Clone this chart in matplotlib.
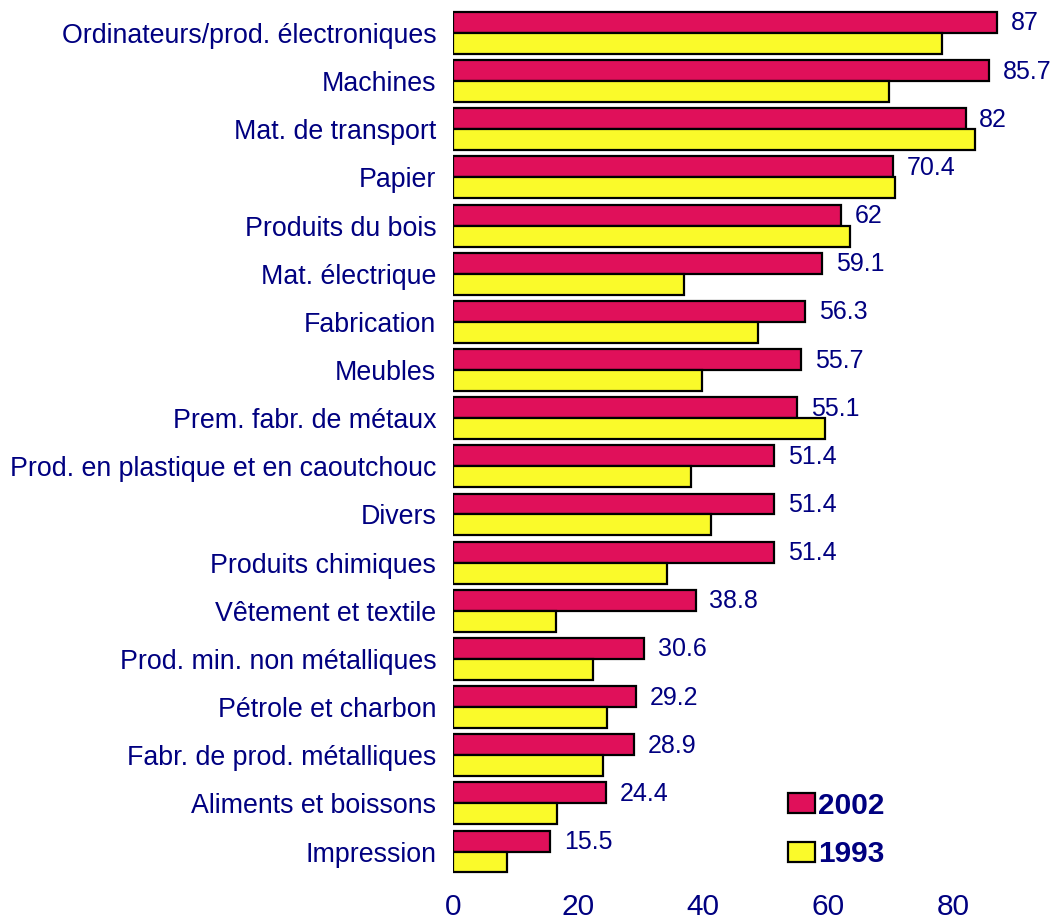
import matplotlib.pyplot as plt
import numpy as np

plt.rcParams["font.family"] = ["Liberation Sans", "DejaVu Sans"]

categories = [
    "Ordinateurs/prod. électroniques",
    "Machines",
    "Mat. de transport",
    "Papier",
    "Produits du bois",
    "Mat. électrique",
    "Fabrication",
    "Meubles",
    "Prem. fabr. de métaux",
    "Prod. en plastique et en caoutchouc",
    "Divers",
    "Produits chimiques",
    "Vêtement et textile",
    "Prod. min. non métalliques",
    "Pétrole et charbon",
    "Fabr. de prod. métalliques",
    "Aliments et boissons",
    "Impression",
]
values_2002 = [87, 85.7, 82, 70.4, 62, 59.1, 56.3, 55.7, 55.1, 51.4,
               51.4, 51.4, 38.8, 30.6, 29.2, 28.9, 24.4, 15.5]
values_1993 = [78.3, 69.8, 83.5, 70.7, 63.5, 36.9, 48.8, 39.9, 59.5, 38.1,
               41.3, 34.3, 16.4, 22.4, 24.6, 24.0, 16.6, 8.7]
xticks = [0, 20, 40, 60, 80]

NAVY = "#000080"
RED = "#E0105A"
YELLOW = "#FAFA2A"

fig = plt.figure(figsize=(10.55, 9.19), dpi=100)
ax = fig.add_axes([453 / 1055, 1 - 880.4 / 919, 1 - 453 / 1055, 876.3 / 919])

y = np.arange(len(categories))
h = 0.435
ax.barh(y - h / 2, values_2002, height=h, color=RED, edgecolor="black",
        linewidth=1.6, label="2002")
ax.barh(y + h / 2, values_1993, height=h, color=YELLOW, edgecolor="black",
        linewidth=1.6, label="1993")

for yi, v in zip(y, values_2002):
    ax.text(v + 2.2, yi - h / 2 + 0.02, f"{v:g}", color=NAVY, fontsize=18,
            va="center", ha="left")

ax.set_xlim(0, 96.3)
ax.set_ylim(len(categories) - 0.4, -0.6)
ax.set_yticks(y)
ax.set_yticklabels(categories, color=NAVY, fontsize=19.3)
ax.set_xticks(xticks)
ax.set_xticklabels([str(t) for t in xticks], color=NAVY, fontsize=21.5)
ax.tick_params(axis="y", length=0, pad=12)
ax.tick_params(axis="x", length=0, pad=9)
for s in ax.spines.values():
    s.set_visible(False)

leg = ax.legend(loc="center left", bbox_to_anchor=(773 / 1055, 1 - 830 / 919),
                bbox_transform=fig.transFigure, frameon=False,
                prop={"weight": "bold", "size": 21.5}, handlelength=0.9,
                handleheight=0.66, handletextpad=0.12, labelspacing=0.7,
                borderpad=0)
for t in leg.get_texts():
    t.set_color(NAVY)

fig.savefig("out.png", dpi=100)
